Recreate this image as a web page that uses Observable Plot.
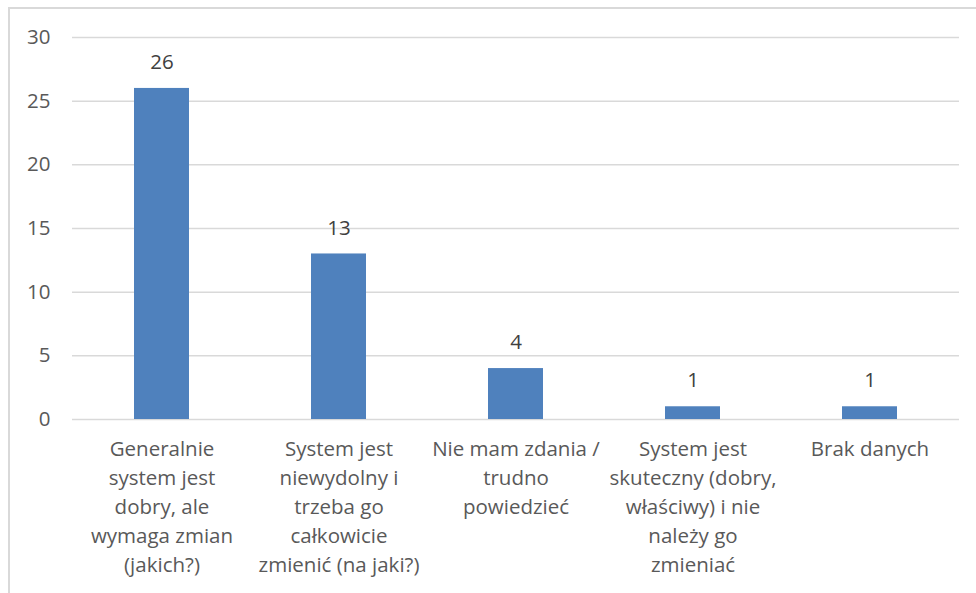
<!DOCTYPE html>
<html>
<head>
<meta charset="utf-8">
<script src="https://cdn.jsdelivr.net/npm/d3@7"></script>
<script src="https://cdn.jsdelivr.net/npm/@observablehq/plot@0.6"></script>
<style>
  html, body { margin: 0; padding: 0; background: #fff; overflow: hidden; }
  #wrap { position: relative; width: 976px; height: 593px; }
  #frame { position: absolute; left: 8px; top: 7px; width: 990px; height: 600px; border: 2px solid #d9d9d9; box-sizing: border-box; }
  #chart { position: absolute; left: 0; top: 0; }
</style>
</head>
<body>
<div id="wrap">
  <div id="frame"></div>
  <div id="chart"></div>
</div>
<script>
const categories = [
  "Generalnie system jest dobry, ale wymaga zmian (jakich?)",
  "System jest niewydolny i trzeba go całkowicie zmienić (na jaki?)",
  "Nie mam zdania / trudno powiedzieć",
  "System jest skuteczny (dobry, właściwy) i nie należy go zmieniać",
  "Brak danych"
];
const tickLabels = [
  "Generalnie\nsystem jest\ndobry, ale\nwymaga zmian\n(jakich?)",
  "System jest\nniewydolny i\ntrzeba go\ncałkowicie\nzmienić (na jaki?)",
  "Nie mam zdania /\ntrudno\npowiedzieć",
  "System jest\nskuteczny (dobry,\nwłaściwy) i nie\nnależy go\nzmieniać",
  "Brak danych"
];
const values = [26, 13, 4, 1, 1];
const yTicks = [0, 5, 10, 15, 20, 25, 30];

const data = categories.map((c, i) => ({category: c, value: values[i]}));
const labelOf = new Map(categories.map((c, i) => [c, tickLabels[i]]));

const FS = 20.5;
const chart = Plot.plot({
  width: 976,
  height: 593,
  marginLeft: 72,
  marginRight: 17,
  marginTop: 37,
  marginBottom: 174,
  style: {fontFamily: "'Open Sans', sans-serif", fontSize: FS + "px", color: "#595959", background: "transparent"},
  x: {domain: categories, paddingInner: 0.69, paddingOuter: 0.345, label: null},
  y: {domain: [0, 30], label: null},
  marks: [
    Plot.gridY(yTicks, {stroke: "#d9d9d9", strokeOpacity: 1, strokeWidth: 1.5}),
    Plot.barY(data, {x: "category", y: "value", fill: "#4f81bd"}),
    Plot.text(data, {x: "category", y: "value", text: d => String(d.value), dy: -26, fill: "#404040", fontSize: FS}),
    Plot.axisY(yTicks, {tickSize: 0, tickPadding: 22, fill: "#595959", fontSize: FS, label: null}),
    Plot.axisX({tickSize: 0, tickPadding: 16, tickFormat: c => labelOf.get(c), lineHeight: 29 / FS, fill: "#595959", fontSize: FS, label: null})
  ]
});
document.getElementById("chart").appendChild(chart);
</script>
</body>
</html>
